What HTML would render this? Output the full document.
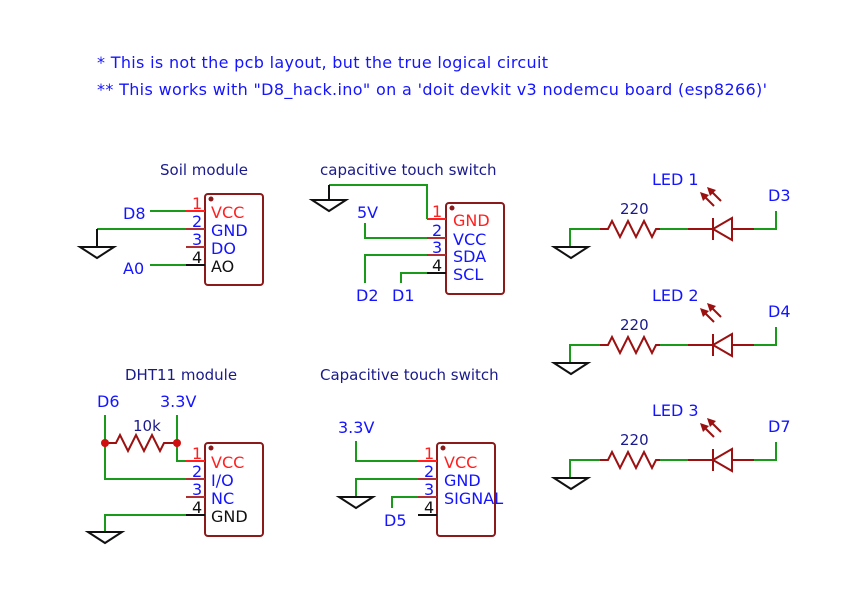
<!DOCTYPE html>
<html><head><meta charset="utf-8"><style>
html,body{margin:0;padding:0;background:#fff;}
svg{display:block;}
text{font-family:"DejaVu Sans","Liberation Sans",sans-serif;}
.t{fill:#1414ff;font-size:16px;}
.h{fill:#1a1a8c;font-size:15px;}
.b{fill:#1414ff;font-size:16px;}
.r{fill:#ff2020;font-size:16px;}
.k{fill:#111;font-size:16px;}
.n{font-size:16px;}
.g{stroke:#1a9a1a;stroke-width:2;fill:none;}
.rp{stroke:#b03030;stroke-width:2;fill:none;}
.red{stroke:#ff2020;stroke-width:2;}
.blk{stroke:#111;stroke-width:2;}
.box{fill:none;stroke:#8b1a1a;stroke-width:2;}
.gnd{fill:none;stroke:#111;stroke-width:2;}
.dr{stroke:#9b1010;stroke-width:2;fill:none;}
</style></head><body>
<svg width="855" height="593" viewBox="0 0 855 593" xmlns="http://www.w3.org/2000/svg">
<text class="t" x="97" y="68" textLength="451">* This is not the pcb layout, but the true logical circuit</text>
<text class="t" x="97" y="95" textLength="670">** This works with "D8_hack.ino" on a 'doit devkit v3 nodemcu board (esp8266)'</text>

<!-- Soil module -->
<text class="h" x="160" y="175">Soil module</text>
<rect class="box" x="205" y="194" width="58" height="91" rx="3"/>
<circle cx="211" cy="199" r="2.5" fill="#8b1a1a"/>
<line class="g" x1="150" y1="211" x2="186" y2="211"/><line class="red" x1="186" y1="211" x2="205" y2="211"/>
<line class="g" x1="97" y1="229" x2="186" y2="229"/><line class="rp" x1="186" y1="229" x2="205" y2="229"/>
<line class="rp" x1="186" y1="247" x2="205" y2="247"/>
<line class="g" x1="150" y1="265" x2="186" y2="265"/><line class="blk" x1="186" y1="265" x2="205" y2="265"/>
<polyline class="gnd" points="97,229 97,247"/><polygon class="gnd" points="80,247 114,247 97,258"/>
<text class="r n" x="192" y="209">1</text><text class="b n" x="192" y="227">2</text><text class="b n" x="192" y="245">3</text><text class="k n" x="192" y="263">4</text>
<text class="r" x="211" y="218">VCC</text><text class="b" x="211" y="236">GND</text><text class="b" x="211" y="254">DO</text><text class="k" x="211" y="272">AO</text>
<text class="b" x="123" y="219">D8</text><text class="b" x="123" y="274">A0</text>

<!-- capacitive touch switch -->
<text class="h" x="320" y="175">capacitive touch switch</text>
<rect class="box" x="446" y="203" width="58" height="91" rx="3"/>
<circle cx="452" cy="208" r="2.5" fill="#8b1a1a"/>
<polyline class="g" points="329,185 427,185 427,219"/><line class="red" x1="427" y1="219" x2="446" y2="219"/>
<polygon class="gnd" points="312,200 346,200 329,211"/><line class="blk" x1="329" y1="185" x2="329" y2="200"/>
<polyline class="g" points="365,223 365,238 427,238"/><line class="rp" x1="427" y1="238" x2="446" y2="238"/>
<polyline class="g" points="365,283 365,255 427,255"/><line class="rp" x1="427" y1="255" x2="446" y2="255"/>
<polyline class="g" points="401,283 401,273 427,273"/><line class="blk" x1="427" y1="273" x2="446" y2="273"/>
<text class="r n" x="432" y="217">1</text><text class="b n" x="432" y="236">2</text><text class="b n" x="432" y="253">3</text><text class="k n" x="432" y="271">4</text>
<text class="r" x="453" y="226">GND</text><text class="b" x="453" y="245">VCC</text><text class="b" x="453" y="262">SDA</text><text class="b" x="453" y="280">SCL</text>
<text class="b" x="357" y="218">5V</text><text class="b" x="356" y="301">D2</text><text class="b" x="392" y="301">D1</text>

<!-- LEDs -->
<g>
<text class="b" x="652" y="185">LED 1</text>
<text class="h" x="620" y="214">220</text>
<polyline class="g" points="570,247 570,229 600,229"/>
<polygon class="gnd" points="554,247 588,247 571,258"/>
<polyline class="dr" points="600,229 608,229 612,221 620,237 628,221 636,237 644,221 652,237 656,229 660,229"/>
<line class="g" x1="660" y1="229" x2="688" y2="229"/>
<line class="dr" x1="688" y1="229" x2="713" y2="229"/>
<line class="dr" x1="713" y1="218" x2="713" y2="240"/>
<polygon class="dr" points="713,229 732,218 732,240"/>
<line class="dr" x1="732" y1="229" x2="754" y2="229"/>
<polyline class="g" points="754,229 776,229 776,211"/>
<line class="dr" x1="714" y1="206" x2="704" y2="196"/><polygon points="700,192 709,195 703,201" fill="#9b1010"/>
<line class="dr" x1="721" y1="201" x2="711" y2="191"/><polygon points="707,187 716,190 710,196" fill="#9b1010"/>
<text class="b" x="768" y="201">D3</text>
</g>
<g transform="translate(0,116)">
<text class="b" x="652" y="185">LED 2</text>
<text class="h" x="620" y="214">220</text>
<polyline class="g" points="570,247 570,229 600,229"/>
<polygon class="gnd" points="554,247 588,247 571,258"/>
<polyline class="dr" points="600,229 608,229 612,221 620,237 628,221 636,237 644,221 652,237 656,229 660,229"/>
<line class="g" x1="660" y1="229" x2="688" y2="229"/>
<line class="dr" x1="688" y1="229" x2="713" y2="229"/>
<line class="dr" x1="713" y1="218" x2="713" y2="240"/>
<polygon class="dr" points="713,229 732,218 732,240"/>
<line class="dr" x1="732" y1="229" x2="754" y2="229"/>
<polyline class="g" points="754,229 776,229 776,211"/>
<line class="dr" x1="714" y1="206" x2="704" y2="196"/><polygon points="700,192 709,195 703,201" fill="#9b1010"/>
<line class="dr" x1="721" y1="201" x2="711" y2="191"/><polygon points="707,187 716,190 710,196" fill="#9b1010"/>
<text class="b" x="768" y="201">D4</text>
</g>
<g transform="translate(0,231)">
<text class="b" x="652" y="185">LED 3</text>
<text class="h" x="620" y="214">220</text>
<polyline class="g" points="570,247 570,229 600,229"/>
<polygon class="gnd" points="554,247 588,247 571,258"/>
<polyline class="dr" points="600,229 608,229 612,221 620,237 628,221 636,237 644,221 652,237 656,229 660,229"/>
<line class="g" x1="660" y1="229" x2="688" y2="229"/>
<line class="dr" x1="688" y1="229" x2="713" y2="229"/>
<line class="dr" x1="713" y1="218" x2="713" y2="240"/>
<polygon class="dr" points="713,229 732,218 732,240"/>
<line class="dr" x1="732" y1="229" x2="754" y2="229"/>
<polyline class="g" points="754,229 776,229 776,211"/>
<line class="dr" x1="714" y1="206" x2="704" y2="196"/><polygon points="700,192 709,195 703,201" fill="#9b1010"/>
<line class="dr" x1="721" y1="201" x2="711" y2="191"/><polygon points="707,187 716,190 710,196" fill="#9b1010"/>
<text class="b" x="768" y="201">D7</text>
</g>

<!-- DHT11 -->
<text class="h" x="125" y="380">DHT11 module</text>
<rect class="box" x="205" y="443" width="58" height="93" rx="3"/>
<circle cx="211" cy="448" r="2.5" fill="#8b1a1a"/>
<text class="b" x="97" y="407">D6</text><text class="b" x="160" y="407">3.3V</text>
<text class="h" x="133" y="431">10k</text>
<polyline class="g" points="105,415 105,479 186,479"/><line class="rp" x1="186" y1="479" x2="205" y2="479"/>
<polyline class="g" points="177,415 177,461 186,461"/><line class="red" x1="186" y1="461" x2="205" y2="461"/>
<polyline class="dr" points="105,443 116,443 120,435 128,451 136,435 144,451 152,435 160,451 164,443 177,443"/>
<circle cx="105" cy="443" r="4" fill="#d01010"/><circle cx="177" cy="443" r="4" fill="#d01010"/>
<line class="rp" x1="186" y1="497" x2="205" y2="497"/>
<polyline class="g" points="105,532 105,515 186,515"/><line class="blk" x1="186" y1="515" x2="205" y2="515"/>
<polygon class="gnd" points="88,532 122,532 105,543"/>
<text class="r n" x="192" y="459">1</text><text class="b n" x="192" y="477">2</text><text class="b n" x="192" y="495">3</text><text class="k n" x="192" y="513">4</text>
<text class="r" x="211" y="468">VCC</text><text class="b" x="211" y="486">I/O</text><text class="b" x="211" y="504">NC</text><text class="k" x="211" y="522">GND</text>

<!-- Capacitive touch switch 2 -->
<text class="h" x="320" y="380">Capacitive touch switch</text>
<rect class="box" x="437" y="443" width="58" height="93" rx="3"/>
<circle cx="443" cy="448" r="2.5" fill="#8b1a1a"/>
<text class="b" x="338" y="433">3.3V</text>
<polyline class="g" points="356,441 356,461 418,461"/><line class="red" x1="418" y1="461" x2="437" y2="461"/>
<polyline class="g" points="356,497 356,479 418,479"/><line class="rp" x1="418" y1="479" x2="437" y2="479"/>
<polygon class="gnd" points="339,497 373,497 356,508"/>
<polyline class="g" points="392,508 392,497 418,497"/><line class="rp" x1="418" y1="497" x2="437" y2="497"/>
<line class="blk" x1="418" y1="515" x2="437" y2="515"/>
<text class="r n" x="424" y="459">1</text><text class="b n" x="424" y="477">2</text><text class="b n" x="424" y="495">3</text><text class="k n" x="424" y="513">4</text>
<text class="r" x="444" y="468">VCC</text><text class="b" x="444" y="486">GND</text><text class="b" x="444" y="504">SIGNAL</text>
<text class="b" x="384" y="526">D5</text>
</svg>
</body></html>
